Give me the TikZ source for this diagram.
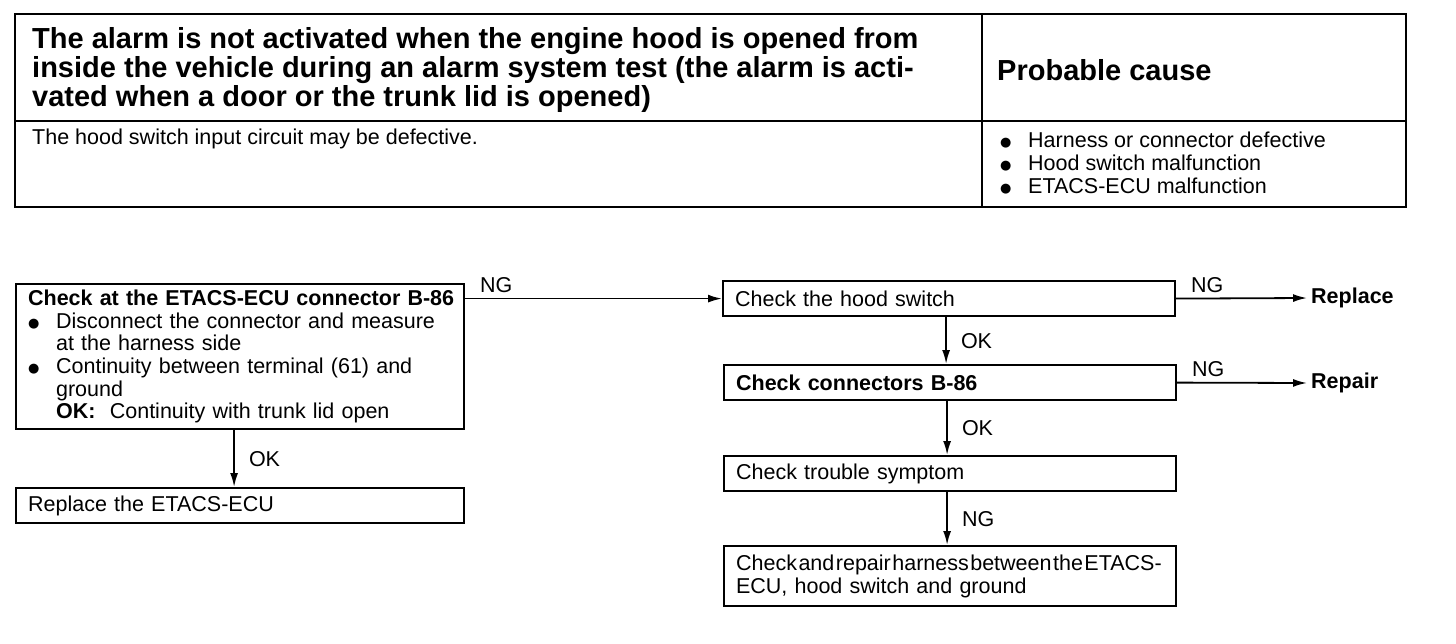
\documentclass[tikz,border=0pt]{standalone}
\usepackage{fontspec}
\setmainfont{Liberation Sans}
\newfontfamily\symfont{DejaVu Sans}
\usetikzlibrary{arrows.meta,positioning}

\newcommand{\bul}{\makebox[28pt][l]{\raisebox{1pt}{\symfont\fontsize{13}{13}\selectfont ●}}}
\newcommand{\ind}{\hspace*{28pt}}

\begin{document}
\begin{tikzpicture}[x=1pt, y=-1pt,
    every node/.style={font=\fontsize{21.5}{22.7}\selectfont, inner sep=0pt},
    ttl/.style={font=\fontsize{29}{29}\selectfont\bfseries, align=left, anchor=west},
    chk/.style={rectangle, draw, line width=2.2pt, anchor=north west, align=left, inner xsep=12pt, text width=428pt, minimum height=35pt},
    lft/.style={chk, text width=424pt},
    flow/.style={-{Latex[length=14pt,width=8pt]}, line width=1.8pt},
    tag/.style={anchor=south west, xshift=14pt, yshift=5pt},
    res/.style={anchor=west, font=\fontsize{21.5}{22.7}\selectfont\bfseries, inner xsep=4pt}
]
\useasboundingbox (0,0) rectangle (1456,644);

% Table
\draw[line width=2.6pt] (15,14) rectangle (1406,207);
\draw[line width=2.2pt] (15,121) -- (1406,121);
\draw[line width=2.2pt] (982,14) -- (982,207);
\node[ttl] (symptom) at (32,70.5) {The alarm is not activated when the engine hood is opened from\\inside the vehicle during an alarm system test (the alarm is acti-\\vated when a door or the trunk lid is opened)};
\node[ttl] (cause) at (997,70) {Probable cause};
\node[anchor=north west] (desc) at (32,129) {The hood switch input circuit may be defective.};
\node[anchor=north west, align=left] (causes) at (1000,132) {\bul Harness or connector defective\\\bul Hood switch malfunction\\\bul ETACS-ECU malfunction};

% Left column
\node[lft, minimum height=145pt] (ecu) at (15,283) {\mbox{\textbf{Check at the ETACS-ECU connector B-86}}\\\bul Disconnect the connector and measure\\\ind at the harness side\\\bul Continuity between terminal (61) and\\\ind ground\\\ind \textbf{OK:}\ \ Continuity with trunk lid open};
\node[lft] (replecu) at (15,487) {Replace the ETACS-ECU};

% Right column
\node[chk] (hood) at (722,280) {Check the hood switch};
\node[chk] (conn) at (723,364) {\textbf{Check connectors B-86}};
\node[chk] (symp) at (723,455) {Check trouble symptom};
\node[chk, minimum height=60pt] (harn) at (723,545) {\mbox{\spaceskip=1.5pt Check and repair harness between the ETACS-}\\ECU, hood switch and ground};
\node[res] (replace) at (1307,298) {Replace};
\node[res] (repair) at (1307,383) {Repair};

% Connections
\draw[flow] (ecu.north east |- hood.west) -- node[tag, pos=0] {NG} (hood.west);
\draw[flow] ([xshift=-6pt]ecu.south) -- node[right=14pt] {OK} ([xshift=-6pt]replecu.north);
\draw[flow] (hood.east) -- node[tag, pos=0] {NG} (replace.west);
\draw[flow] ([xshift=-3pt]hood.south) -- node[right=14pt] {OK} ([xshift=-3pt]hood.south |- conn.north);
\draw[flow] (conn.east) -- node[tag, pos=0] {NG} (repair.west);
\draw[flow] ([xshift=-3pt]conn.south) -- node[right=14pt] {OK} ([xshift=-3pt]symp.north);
\draw[flow] ([xshift=-3pt]symp.south) -- node[right=14pt] {NG} ([xshift=-3pt]harn.north);
\end{tikzpicture}
\end{document}
